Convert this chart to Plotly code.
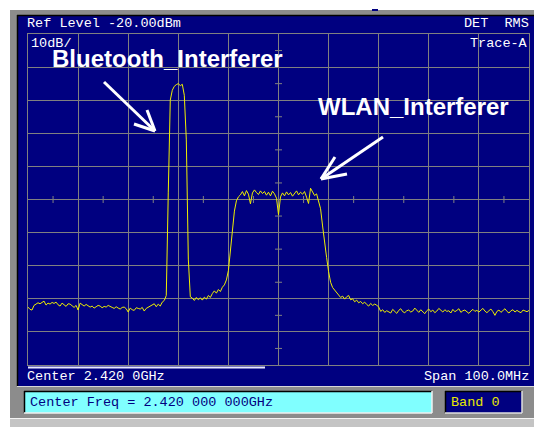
import numpy as np
import plotly.graph_objects as go

W, H = 534, 427

# Sweep settings
f_start_ghz = 2.370
f_stop_ghz = 2.470
ref_level_dbm = -20.0
db_per_div = 10.0
n_div = 10

# Trace-A readings (dBm), 251 sweep points, split by spectral region
floor_low = [
    -102.5, -103.2, -103.4, -102.0, -101.6, -101.2, -101.5, -101.0, -100.7, -101.9,
    -101.3, -101.6, -101.1, -101.4, -101.0, -101.8, -102.2, -101.3, -101.7, -102.3,
    -101.5, -101.6, -102.1, -102.6, -102.0, -103.4, -101.3, -101.9, -102.2, -101.7,
    -102.1, -102.5, -102.2, -102.8, -102.4, -102.0, -102.2, -102.7, -102.3, -102.5,
    -102.0, -102.2, -102.6, -102.9, -102.4, -102.8, -103.1, -102.6, -102.5, -103.0,
    -104.0, -102.8, -103.3, -103.5, -102.7, -102.9, -103.1, -102.6, -103.7, -102.9,
    -102.5, -102.2, -101.7, -101.5, -102.4, -101.6, -102.2, -101.0, -100.5,
]
bt_burst = [-99.0, -68.0, -40.0, -37.0, -35.8, -35.3, -35.0, -35.6, -35.2, -38.5,
            -52.0, -88.0, -99.4]
gap = [-99.8, -100.5, -99.6, -100.3, -99.7, -100.4, -99.5, -100.1, -99.0, -99.6,
       -98.4, -97.6, -98.3, -97.2, -97.8, -96.5, -95.8, -94.3, -91.5, -86.0,
       -78.8, -73.5, -70.4, -69.2]
wlan_band = [
    -68.6, -67.6, -68.9, -67.3, -68.4, -71.3, -68.0, -67.1, -67.9, -68.5,
    -67.4, -68.2, -67.6, -68.7, -67.8, -68.9, -67.5, -68.3, -69.6, -74.6,
    -69.2, -68.0, -68.9, -67.7, -68.6, -67.9, -69.0, -68.1, -67.4, -68.6,
    -67.8, -68.4, -67.6, -69.3, -71.2, -66.6, -67.9, -68.8, -68.3, -70.3,
]
wlan_skirt = [
    -72.8, -78.0, -83.5, -87.5, -91.8, -95.0, -96.6, -97.4, -98.3, -98.8,
    -99.6, -99.2, -100.1, -99.4, -99.0, -100.3, -100.0, -100.9, -100.4, -101.2,
    -100.8, -101.5, -101.0, -101.7, -102.2, -101.4, -102.0, -101.6, -101.9, -102.5,
    -103.8, -103.3,
]
floor_high = [
    -104.1, -103.6, -103.9, -104.3, -103.2, -103.8, -104.4, -103.5, -103.0, -103.9,
    -104.2, -103.6, -103.4, -104.0, -103.7, -102.8, -103.5, -104.1, -103.3, -103.8,
    -104.5, -103.6, -103.1, -103.9, -103.4, -104.2, -103.7, -102.9, -103.5, -104.0,
    -103.3, -103.8, -103.6, -104.3, -103.2, -103.9, -103.5, -103.0, -104.1, -103.6,
    -103.4, -103.9, -104.4, -103.7, -103.2, -103.8, -103.5, -104.0, -103.3, -102.9,
    -103.7, -104.2, -103.6, -103.1, -103.9, -105.0, -103.8, -103.4, -104.1, -103.5,
    -103.0, -103.8, -104.3, -103.6, -103.3, -104.0, -103.5, -103.9, -104.2, -103.4,
    -103.7, -103.9, -103.5,
]
level_dbm = floor_low + bt_burst + gap + wlan_band + wlan_skirt + floor_high
freq_ghz = np.linspace(f_start_ghz, f_stop_ghz, len(level_dbm))

y_bottom = ref_level_dbm - n_div * db_per_div
f_center = (f_start_ghz + f_stop_ghz) / 2
y_center = (ref_level_dbm + y_bottom) / 2
div_f = (f_stop_ghz - f_start_ghz) / n_div

NAVY = "#000080"
GRID = "#808080"
FRAME = "#8c8c8c"
CYAN = "#80ffff"
MONO = "Liberation Mono"


def px(x):
    return x / W


def py(y):
    return 1 - y / H


fig = go.Figure()

# Measurement trace
fig.add_trace(go.Scatter(
    x=freq_ghz, y=level_dbm, mode="lines",
    line=dict(color="#f0f000", width=1), hoverinfo="skip", showlegend=False,
))

# Fine ticks along the centre graticule lines
mid_levels = [ref_level_dbm - db_per_div * (k + 0.5) for k in range(n_div)]
mid_freqs = [f_start_ghz + div_f * (k + 0.5) for k in range(n_div)]
fig.add_trace(go.Scatter(
    x=[f_center] * len(mid_levels), y=mid_levels, mode="markers",
    marker=dict(symbol="line-ew", size=5, line=dict(color=GRID, width=1)),
    hoverinfo="skip", showlegend=False,
))
fig.add_trace(go.Scatter(
    x=mid_freqs, y=[y_center] * len(mid_freqs), mode="markers",
    marker=dict(symbol="line-ns", size=5, line=dict(color=GRID, width=1)),
    hoverinfo="skip", showlegend=False,
))


def rect(x0, y0, x1, y1, fill):
    return dict(type="rect", xref="paper", yref="paper", layer="below",
                x0=px(x0), x1=px(x1), y0=py(y1), y1=py(y0),
                fillcolor=fill, line=dict(width=0))


def seg(x0, y0, x1, y1, color, width=1, layer="below"):
    return dict(type="line", xref="paper", yref="paper", layer=layer,
                x0=px(x0), x1=px(x1), y0=py(y0), y1=py(y1),
                line=dict(color=color, width=width))


shapes = [
    # instrument frame
    rect(10, 10, 534, 418, FRAME),
    rect(10, 419, 534, 427, "#c4c4c4"),
    seg(10, 418.5, 534, 418.5, "#f4f4f4"),
    rect(372, 9, 378, 11, NAVY),
    # display panel
    rect(17, 15, 534, 386, NAVY),
    seg(17, 15.5, 534, 15.5, "#000000", 1.5),
    seg(17.5, 15, 17.5, 386, "#000000", 1.5),
    seg(17, 386.5, 534, 386.5, "#d8d8d8"),
    # entry field
    rect(24, 391, 432, 413, CYAN),
    seg(24, 391.5, 432, 391.5, "#000000", 1.5),
    seg(24.5, 391, 24.5, 413, "#000000", 1.5),
    seg(24, 413, 432, 413, "#f0f0f0", 1.5),
    seg(432, 391, 432, 413, "#f0f0f0", 1.5),
    # band indicator
    rect(445, 391, 522, 413, NAVY),
    seg(445, 391.5, 522, 391.5, "#000000", 1.5),
    seg(445.5, 391, 445.5, 413, "#000000", 1.5),
    seg(445, 413, 522, 413, "#e0e0e0", 1.5),
    seg(522, 391, 522, 413, "#e0e0e0", 1.5),
    # sweep progress bar
    seg(28, 367.5, 265, 367.5, "#e8e8ff", 2),
]


def arrow(tail, head, barb1, barb2):
    out = [seg(*tail, *head, "white", 3, "above"),
           seg(*head, *barb1, "white", 3, "above"),
           seg(*head, *barb2, "white", 3, "above")]
    return out


shapes += arrow((104, 82), (155, 131), (147, 110), (134, 124))
shapes += arrow((383, 137), (321, 179), (347, 174), (335, 157))


def label(x, y, text, anchor="left", color="white", size=13.5, family=MONO):
    return dict(xref="paper", yref="paper", x=px(x), y=py(y), text=text,
                xanchor=anchor, yanchor="middle", showarrow=False,
                font=dict(family=family, size=size, color=color))


annotations = [
    label(25, 24, "Ref Level -20.00dBm"),
    label(531, 24, "DET  RMS", anchor="right"),
    label(29, 43, "10dB/"),
    label(530, 43, "Trace-A", anchor="right"),
    label(25, 376, "Center 2.420 0GHz"),
    label(531, 376, "Span 100.0MHz", anchor="right"),
    label(28, 402, "Center Freq = 2.420 000 000GHz", color=NAVY),
    label(449, 402, "Band 0", color="#e8e800"),
    label(50, 59, "<b>Bluetooth_Interferer</b>", size=24, family="Liberation Sans"),
    label(316, 106, "<b>WLAN_Interferer</b>", size=24, family="Liberation Sans"),
]

axis_common = dict(showgrid=True, gridcolor=GRID, gridwidth=1,
                   showticklabels=False, ticks="", zeroline=False,
                   showline=True, linecolor=GRID, linewidth=1, mirror=True,
                   fixedrange=True)

fig.update_layout(
    width=W, height=H,
    margin=dict(l=0, r=0, t=0, b=0, pad=0),
    paper_bgcolor="white",
    plot_bgcolor="rgba(0,0,0,0)",
    showlegend=False,
    xaxis=dict(range=[f_start_ghz, f_stop_ghz], dtick=div_f, tick0=f_start_ghz,
               domain=[px(28), px(529)], **axis_common),
    yaxis=dict(range=[y_bottom, ref_level_dbm], dtick=db_per_div, tick0=y_bottom,
               domain=[py(365), py(34)], **axis_common),
    shapes=shapes,
    annotations=annotations,
)

fig.write_html("out.html")
